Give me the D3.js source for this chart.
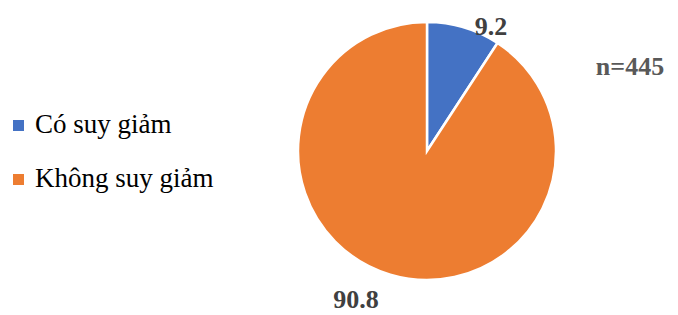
<!DOCTYPE html>
<html>
<head>
<meta charset="utf-8">
<script src="https://cdn.jsdelivr.net/npm/d3@7"></script>
<style>
  body { margin: 0; background: #fff; }
  svg { display: block; }
</style>
</head>
<body>
<svg id="chart" width="678" height="315"></svg>
<script>
var categories = ["Có suy giảm", "Không suy giảm"];
var values = [9.2, 90.8];
var colors = ["#4472C4", "#ED7D31"];
var sampleNote = "n=445";

var width = 678, height = 315;
var cx = 427, cy = 151, radius = 129;
var serif = "Liberation Serif, DejaVu Serif, serif";

var svg = d3.select("#chart");

var pie = d3.pie().sort(null).value(function(d) { return d; });
var arc = d3.arc().innerRadius(0).outerRadius(radius);
var arcs = pie(values);

var g = svg.append("g")
    .attr("transform", "translate(" + cx + "," + cy + ")");

g.selectAll("path")
    .data(arcs)
    .enter().append("path")
    .attr("d", arc)
    .attr("fill", function(d, i) { return colors[i]; })
    .attr("stroke", "#fff")
    .attr("stroke-width", 2.5)
    .attr("stroke-linejoin", "miter");

// labels outside the pie, a bit shifted like excel does
var labelOffsets = [[64, -116], [-71, 157]];
g.selectAll("text.lbl")
    .data(arcs)
    .enter().append("text")
    .attr("class", "lbl")
    .attr("x", function(d, i) { return labelOffsets[i][0]; })
    .attr("y", function(d, i) { return labelOffsets[i][1]; })
    .attr("text-anchor", "middle")
    .attr("font-family", serif)
    .attr("font-size", "26px")
    .attr("font-weight", "bold")
    .attr("fill", "#404040")
    .text(function(d) { return d.data.toFixed(1); });

svg.append("text")
    .attr("x", 630)
    .attr("y", 75)
    .attr("text-anchor", "middle")
    .attr("font-family", serif)
    .attr("font-size", "26px")
    .attr("font-weight", "bold")
    .attr("fill", "#595959")
    .text(sampleNote);

// legend
var legend = svg.selectAll("g.legend")
    .data(categories)
    .enter().append("g")
    .attr("class", "legend")
    .attr("transform", function(d, i) { return "translate(13," + (133 + i * 54) + ")"; });

legend.append("rect")
    .attr("x", 0)
    .attr("y", -13)
    .attr("width", 11)
    .attr("height", 11)
    .attr("fill", function(d, i) { return colors[i]; });

legend.append("text")
    .attr("x", 22)
    .attr("y", 0)
    .attr("font-family", serif)
    .attr("font-size", "27px")
    .attr("fill", "#000")
    .text(function(d) { return d; });
</script>
</body>
</html>
